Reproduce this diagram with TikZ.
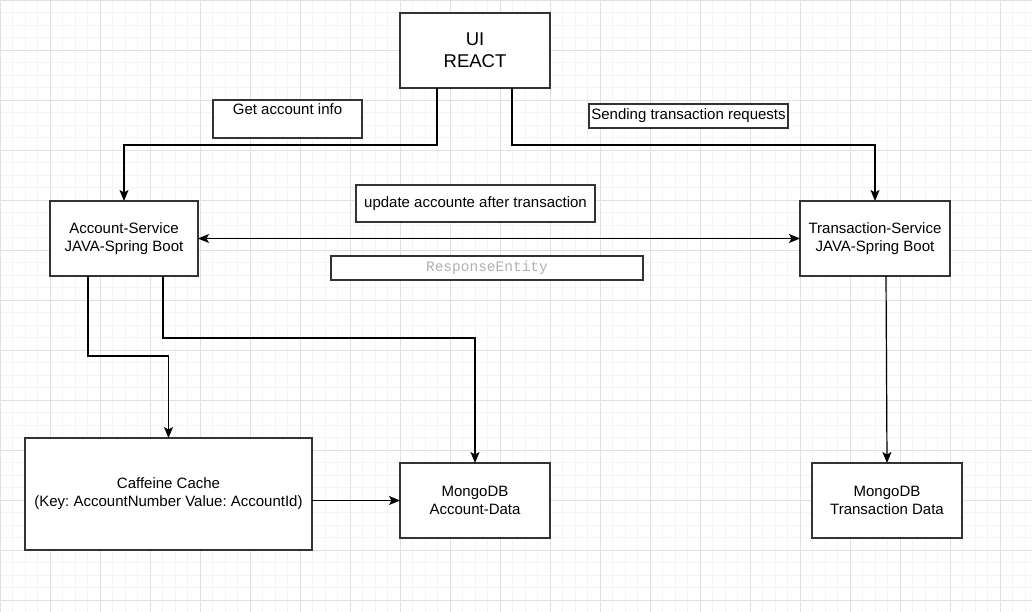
\documentclass[tikz,border=0pt]{standalone}
\usepackage{fontspec}
\setmainfont{Liberation Sans}
\setmonofont{Liberation Mono}
\usepackage{tikz}
\usepackage{xcolor}
\usetikzlibrary{arrows.meta}
\definecolor{gridminor}{HTML}{F4F4F4}
\definecolor{gridmajor}{HTML}{E0E0E0}
\definecolor{boxline}{HTML}{333333}
\definecolor{codegray}{HTML}{B0B0B0}
\frenchspacing
\begin{document}
\begin{tikzpicture}%
  [x=1pt,y=-1pt,>={Stealth[length=11pt,width=9pt,inset=2.5pt]},
   conn/.style={line width=1.2pt,->}]
  \tikzstyle{box node}=[rectangle,draw=boxline,line width=1.2pt,fill=white,
    inner sep=2,outer sep=0,align=center,font=\fontsize{15}{18}\selectfont]
  \useasboundingbox (0,0) rectangle (1032,612);
  \fill[white] (0,0) rectangle (1032,612);
  \foreach \gx in {0,12.5,...,1032}
    \draw[gridminor,line width=0.7pt] (\gx,0) -- (\gx,612);
  \foreach \gy in {0,12.5,...,612}
    \draw[gridminor,line width=0.7pt] (0,\gy) -- (1032,\gy);
  \foreach \gx in {0,50,...,1032}
    \draw[gridmajor,line width=0.7pt] (\gx,0) -- (\gx,612);
  \foreach \gy in {0,50,...,612}
    \draw[gridmajor,line width=0.7pt] (0,\gy) -- (1032,\gy);
  \node(ui)[box node,minimum width=150,minimum height=75,
    font=\fontsize{18.5}{22}\selectfont] at (475,50.5) {UI\\REACT};
  \node(info)[box node,minimum width=149,inner sep=4,text height=11,text depth=19]
    at (287.5,119) {Get account info};
  \node(send)[box node,minimum width=199,minimum height=24] at (688.5,116)
    {Sending transaction requests};
  \node(upd)[box node,minimum width=239,minimum height=37] at (475.5,203.5)
    {update accounte after transaction};
  \node(acc)[box node,minimum width=148,minimum height=75] at (124,238.5)
    {Account-Service\\JAVA-Spring Boot};
  \node(trans)[box node,minimum width=150,minimum height=75] at (875,238.5)
    {Transaction-Service\\JAVA-Spring Boot};
  \node(resp)[box node,minimum width=312,minimum height=24,text=codegray,
    font=\ttfamily\fontsize{14.5}{17}\selectfont] at (487,268) {ResponseEntity};
  \node(cache)[box node,minimum width=287,minimum height=112] at (168.5,494)
    {Caffeine Cache\\(Key: AccountNumber Value: AccountId)};
  \node(mAcc)[box node,minimum width=150,minimum height=75] at (475,500.5)
    {MongoDB\\Account-Data};
  \node(mTx)[box node,minimum width=150,minimum height=75] at (887,500.5)
    {MongoDB\\Transaction Data};
  \draw[conn] ([xshift=-38]ui.south) -- ++(0,57) -| (acc.north);
  \draw[conn] ([xshift=37]ui.south) -- ++(0,57) -| (trans.north);
  \draw[conn,<->] (acc.east) -- (trans.west);
  \draw[conn] ([xshift=-36]acc.south) -- ++(0,80) -| (cache.north);
  \draw[conn] ([xshift=39]acc.south) -- ++(0,62) -| (mAcc.north);
  \draw[conn] ([xshift=11]trans.south) -- (mTx.north);
  \draw[conn] (cache.east |- mAcc.west) -- (mAcc.west);
\end{tikzpicture}
\end{document}
